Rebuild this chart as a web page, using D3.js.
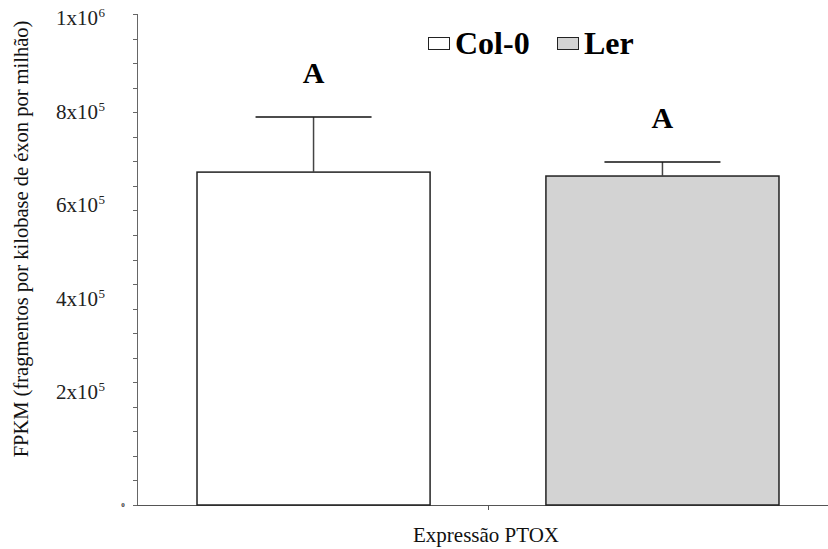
<!DOCTYPE html>
<html>
<head>
<meta charset="utf-8">
<script src="https://cdn.jsdelivr.net/npm/d3@7"></script>
<style>
  body { margin: 0; background: #fff; }
  svg { display: block; }
  text { font-family: "Liberation Serif", "Times New Roman", Times, serif; }
</style>
</head>
<body>
<svg width="828" height="549"></svg>
<script>
// data
categories = ["Expressão PTOX"];
series = ["Col-0", "Ler"];
means = [678000, 670000];
errors = [112000, 28500];
letters = ["A", "A"];
fills = ["#ffffff", "#d3d3d3"];
yTicks = [0, 200000, 400000, 600000, 800000, 1000000];
yTickLabels = [["0", ""], ["2x10", "5"], ["4x10", "5"], ["6x10", "5"], ["8x10", "5"], ["1x10", "6"]];

svg = d3.select("svg");
g = svg.append("g");

y = d3.scaleLinear().domain([0, 1000000]).range([505, 14]);
// the printed tick labels sit a little off their ticks in the original
yLab = d3.scaleLinear().domain([0, 1000000]).range([486, 18]);

x0 = d3.scaleBand().domain(categories).range([137, 839]);
x1 = d3.scaleBand().domain(series).range([0, x0.bandwidth()])
    .paddingInner(0.332).paddingOuter(0.172);

// y axis line + ticks
g.append("line")
    .attr("x1", 137.5).attr("x2", 137.5)
    .attr("y1", y(1000000)).attr("y2", y(0))
    .attr("stroke", "#666").attr("stroke-width", 1);

minor = d3.range(0, 1000001, 50000);
g.selectAll(".ytick").data(minor).enter().append("line")
    .attr("x1", 133).attr("x2", 137.5)
    .attr("y1", function(d){ return Math.round(y(d)) + 0.5; })
    .attr("y2", function(d){ return Math.round(y(d)) + 0.5; })
    .attr("stroke", "#666").attr("stroke-width", 1);

g.selectAll(".ylab").data(yTicks.slice(1)).enter().append("text")
    .attr("x", 98)
    .attr("y", function(d){ return yLab(d) + 7; })
    .attr("text-anchor", "end")
    .attr("font-size", "21px")
    .attr("fill", "#222")
    .text(function(d, i){ return yTickLabels[i + 1][0]; });

g.selectAll(".ysup").data(yTicks.slice(1)).enter().append("text")
    .attr("x", 98.5)
    .attr("y", function(d){ return yLab(d) - 1; })
    .attr("font-size", "13px")
    .attr("fill", "#222")
    .text(function(d, i){ return yTickLabels[i + 1][1]; });

// the tiny zero label
g.append("text")
    .attr("x", 123).attr("y", y(0) + 2)
    .attr("text-anchor", "middle")
    .attr("font-size", "7px")
    .attr("font-weight", "bold")
    .attr("fill", "#333")
    .text(yTickLabels[0][0]);

// x axis
g.append("line")
    .attr("x1", 137).attr("x2", 828)
    .attr("y1", y(0) + 0.5).attr("y2", y(0) + 0.5)
    .attr("stroke", "#555").attr("stroke-width", 1);
g.selectAll(".xtick").data(categories).enter().append("line")
    .attr("x1", function(d){ return Math.round(x0(d) + x0.bandwidth() / 2) + 0.5; })
    .attr("x2", function(d){ return Math.round(x0(d) + x0.bandwidth() / 2) + 0.5; })
    .attr("y1", y(0)).attr("y2", y(0) + 5)
    .attr("stroke", "#555");
g.selectAll(".xlab").data(categories).enter().append("text")
    .attr("x", function(d){ return x0(d) + x0.bandwidth() / 2 - 2; })
    .attr("y", 542)
    .attr("text-anchor", "middle")
    .attr("font-size", "21px")
    .attr("fill", "#111")
    .text(function(d){ return d; });

// bars
cat = categories[0];
g.selectAll(".bar").data(series).enter().append("rect")
    .attr("x", function(d){ return x0(cat) + x1(d); })
    .attr("y", function(d, i){ return y(means[i]); })
    .attr("width", x1.bandwidth())
    .attr("height", function(d, i){ return y(0) - y(means[i]); })
    .attr("fill", function(d, i){ return fills[i]; })
    .attr("stroke", "#222")
    .attr("stroke-width", 1.5);

// error bars (upper only)
cx = function(d){ return x0(cat) + x1(d) + x1.bandwidth() / 2; };
g.selectAll(".err").data(series).enter().append("line")
    .attr("x1", cx).attr("x2", cx)
    .attr("y1", function(d, i){ return y(means[i]); })
    .attr("y2", function(d, i){ return y(means[i] + errors[i]); })
    .attr("stroke", "#444").attr("stroke-width", 1.5);
g.selectAll(".cap").data(series).enter().append("line")
    .attr("x1", function(d){ return cx(d) - 58; })
    .attr("x2", function(d){ return cx(d) + 58; })
    .attr("y1", function(d, i){ return y(means[i] + errors[i]); })
    .attr("y2", function(d, i){ return y(means[i] + errors[i]); })
    .attr("stroke", "#111").attr("stroke-width", 1.5);

// significance letters
g.selectAll(".letter").data(series).enter().append("text")
    .attr("x", cx)
    .attr("y", function(d, i){ return y(means[i] + errors[i]) - 34; })
    .attr("text-anchor", "middle")
    .attr("font-weight", "bold")
    .attr("font-size", "30px")
    .text(function(d, i){ return letters[i]; });

// legend
legendX = [428, 557];
lg = g.selectAll(".leg").data(series).enter().append("g")
    .attr("transform", function(d, i){ return "translate(" + legendX[i] + ",37)"; });
lg.append("rect")
    .attr("x", 0.5).attr("y", 0.5)
    .attr("width", 21).attr("height", 12)
    .attr("fill", function(d, i){ return fills[i]; })
    .attr("stroke", "#222").attr("stroke-width", 1);
lg.append("text")
    .attr("x", 27).attr("y", 17)
    .attr("font-weight", "bold")
    .attr("font-size", "32px")
    .text(function(d){ return d; });

// y axis title
g.append("text")
    .attr("transform", "translate(28,239) rotate(-90)")
    .attr("text-anchor", "middle")
    .attr("font-size", "20.5px")
    .attr("fill", "#111")
    .text("FPKM (fragmentos por kilobase de éxon por milhão)");
</script>
</body>
</html>
